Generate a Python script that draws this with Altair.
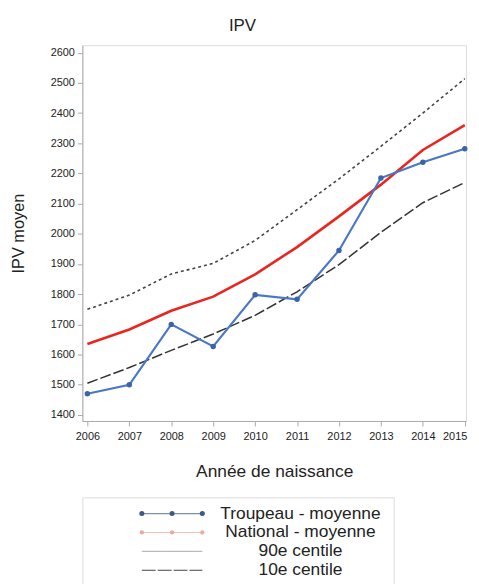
import altair as alt
import pandas as pd

years = [2006, 2007, 2008, 2009, 2010, 2011, 2012, 2013, 2014, 2015]
troupeau = [1470, 1500, 1700, 1627, 1798, 1783, 1945, 2185, 2237, 2282]
national = [1635, 1683, 1745, 1792, 1866, 1956, 2058, 2163, 2278, 2360]
c90 = [1750, 1797, 1867, 1902, 1978, 2080, 2182, 2290, 2400, 2514]
c10 = [1505, 1557, 1614, 1668, 1730, 1808, 1898, 2005, 2103, 2170]

series_names = ["Troupeau - moyenne", "National - moyenne", "90e centile", "10e centile"]
y_ticks = list(range(1400, 2601, 100))

FONT = "Liberation Sans"
BLUE = "#4a78c2"
BLUE_DARK = "#3a64a8"
RED = "#e8261f"

df = pd.DataFrame({
    "year": years * 4,
    "value": troupeau + national + c90 + c10,
    "series": [s for s in series_names for _ in years],
})

xscale = alt.Scale(domain=[2005.88, 2015.03], nice=False, zero=False)
yscale = alt.Scale(domain=[1380, 2625], nice=False, zero=False)

xenc = alt.X("year:Q", scale=xscale, title="Année de naissance",
             axis=alt.Axis(values=years, format="d", grid=False, labelFlush=2,
                           labelFlushOffset=2,
                           labelFontSize=11, labelPadding=5, tickSize=5,
                           titleFontSize=17.5, titlePadding=21, titleFontWeight="normal",
                           domainColor="#aaaaaa", tickColor="#aaaaaa", labelColor="#222222",
                           titleColor="#222222", labelFont=FONT, titleFont=FONT))
yenc = alt.Y("value:Q", scale=yscale, title="IPV moyen",
             axis=alt.Axis(values=y_ticks, format="d", grid=False,
                           labelFontSize=11, labelPadding=3, tickSize=5,
                           titleFontSize=16.5, titlePadding=24, titleFontWeight="normal",
                           domainColor="#aaaaaa", tickColor="#aaaaaa", labelColor="#222222",
                           titleColor="#222222", labelFont=FONT, titleFont=FONT))

base = alt.Chart(df).encode(x=xenc, y=yenc)

l90 = base.transform_filter(alt.datum.series == "90e centile").mark_line(
    color="#444444", strokeWidth=1.6, strokeDash=[3, 3])
l10 = base.transform_filter(alt.datum.series == "10e centile").mark_line(
    color="#333333", strokeWidth=1.5, strokeDash=[11, 3])
lnat = base.transform_filter(alt.datum.series == "National - moyenne").mark_line(
    color=RED, strokeWidth=2.6)
ltr = base.transform_filter(alt.datum.series == "Troupeau - moyenne").mark_line(
    color=BLUE, strokeWidth=2.2)
ptr = base.transform_filter(alt.datum.series == "Troupeau - moyenne").mark_point(
    color=BLUE_DARK, filled=True, size=30, opacity=1)

main = alt.layer(l90, l10, lnat, ltr, ptr).properties(
    width=387, height=379,
    title=alt.TitleParams("IPV", fontSize=17, font=FONT, fontWeight="normal",
                          color="#222222", dx=-32, offset=10),
)

# Legend panel
leg_df = pd.DataFrame({"label": series_names})
ly = alt.Y("label:N", scale=alt.Scale(domain=series_names, type="point", padding=0.86),
           axis=None)
lbase = alt.Chart(leg_df).encode(y=ly)

def row(name):
    return lbase.transform_filter(alt.datum.label == name)

X0, X1 = 60, 121
leg_layers = [
    row("Troupeau - moyenne").mark_rule(color="#7f8fb0", strokeWidth=1.2).encode(
        x=alt.value(X0), x2=alt.value(X1)),
    row("National - moyenne").mark_rule(color="#f6c2bb", strokeWidth=1.2).encode(
        x=alt.value(X0), x2=alt.value(X1)),
    row("90e centile").mark_rule(color="#bbbbbb", strokeWidth=1.2).encode(
        x=alt.value(X0), x2=alt.value(X1)),
    row("10e centile").mark_rule(color="#444444", strokeWidth=1.2, strokeDash=[14, 2]).encode(
        x=alt.value(X0), x2=alt.value(X1)),
]
for xv in (X0, (X0 + X1) / 2, X1):
    leg_layers.append(row("Troupeau - moyenne").mark_point(
        color="#3d5a85", filled=True, size=26, opacity=1).encode(x=alt.value(xv)))
    leg_layers.append(row("National - moyenne").mark_point(
        color="#eaa28f", filled=True, size=18, opacity=0.9).encode(x=alt.value(xv)))
leg_layers.append(lbase.mark_text(fontSize=17.5, font=FONT, color="#222222", align="center",
                                  baseline="middle").encode(x=alt.value(220), text="label:N"))

legend = alt.layer(*leg_layers).properties(width=314, height=90)

chart = alt.vconcat(main, legend, spacing=77, bounds="flush").configure_view(
    stroke="#aaaaaa", strokeWidth=1
).configure(padding={"left": 2, "top": 6, "right": 0, "bottom": 5})

chart.save("out.html", embed_options={"renderer": "svg", "actions": False})
